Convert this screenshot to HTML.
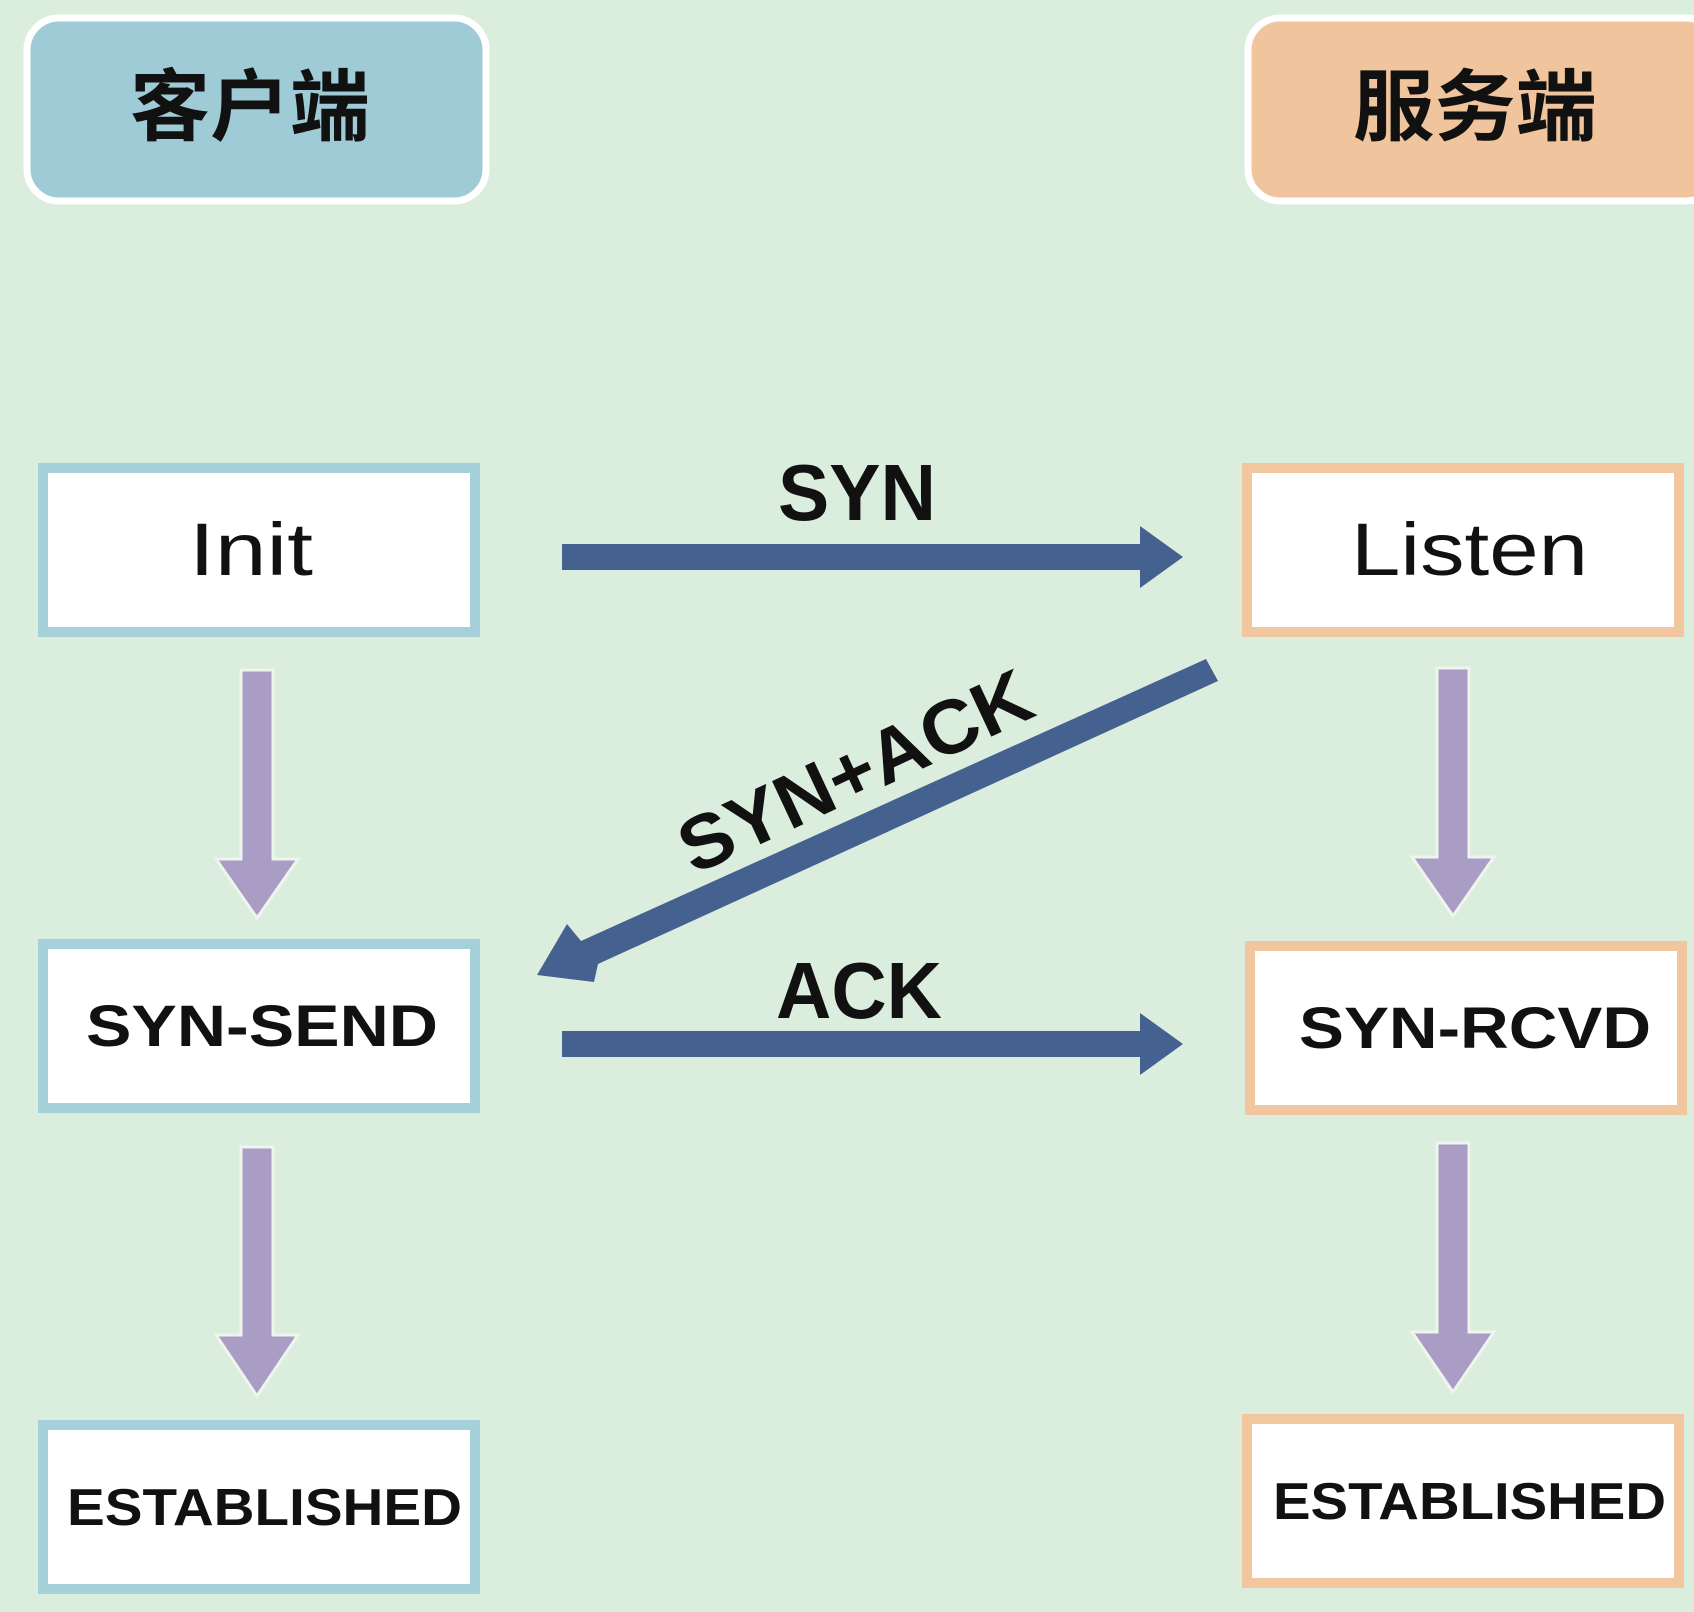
<!DOCTYPE html>
<html><head><meta charset="utf-8"><style>
html,body{margin:0;padding:0;background:#dbeedd;}
svg{display:block}
text{font-family:"Liberation Sans","Noto Sans CJK SC",sans-serif;}
</style></head><body>
<svg width="1694" height="1612" viewBox="0 0 1694 1612" xmlns="http://www.w3.org/2000/svg">
<rect width="1694" height="1612" fill="#dbeedd"/>
<rect x="27" y="18" width="459" height="183" rx="32" fill="#9ecbd5" stroke="#ffffff" stroke-width="7"/>
<rect x="1248" y="18" width="470" height="183" rx="32" fill="#f0c49c" stroke="#ffffff" stroke-width="7"/>
<text x="130" y="134" font-size="78" font-weight="bold" textLength="240" lengthAdjust="spacingAndGlyphs" fill="#111">客户端</text>
<text x="1353" y="134" font-size="78" font-weight="bold" textLength="244" lengthAdjust="spacingAndGlyphs" fill="#111">服务端</text>
<g fill="#ffffff" stroke="#a6d0da" stroke-width="10">
<rect x="43" y="468" width="432" height="164"/>
<rect x="43" y="944" width="432" height="164"/>
<rect x="43" y="1425" width="432" height="164"/>
</g>
<g fill="#ffffff" stroke="#f2c79f" stroke-width="10">
<rect x="1247" y="468" width="432" height="164"/>
<rect x="1250" y="946" width="432" height="164"/>
<rect x="1247" y="1419" width="432" height="164"/>
</g>
<g fill="#111" lengthAdjust="spacingAndGlyphs">
<text x="189" y="575" font-size="74" textLength="124" lengthAdjust="spacingAndGlyphs">Init</text>
<text x="86" y="1046" font-size="58" font-weight="bold" textLength="352" lengthAdjust="spacingAndGlyphs">SYN-SEND</text>
<text x="67" y="1525" font-size="52" font-weight="bold" textLength="395" lengthAdjust="spacingAndGlyphs">ESTABLISHED</text>
<text x="1351" y="575" font-size="74" textLength="237" lengthAdjust="spacingAndGlyphs">Listen</text>
<text x="1299" y="1048" font-size="58" font-weight="bold" textLength="352" lengthAdjust="spacingAndGlyphs">SYN-RCVD</text>
<text x="1273" y="1519" font-size="52" font-weight="bold" textLength="393" lengthAdjust="spacingAndGlyphs">ESTABLISHED</text>
</g>
<g fill="#a99dc5" stroke="#eef5ee" stroke-width="3">
<polygon points="241,670 273,670 273,859 298,859 257,918 216,859 241,859"/>
<polygon points="241,1147 273,1147 273,1335 298,1335 257,1396 216,1335 241,1335"/>
<polygon points="1437,668 1469,668 1469,857 1494,857 1453,916 1412,857 1437,857"/>
<polygon points="1437,1143 1469,1143 1469,1332 1494,1332 1453,1392 1412,1332 1437,1332"/>
</g>
<g fill="#44618f">
<polygon points="562,544 1140,544 1140,526 1183,557 1140,588 1140,570 562,570"/>
<polygon points="562,1031 1140,1031 1140,1013 1183,1044 1140,1075 1140,1057 562,1057"/>
<polygon points="1206,659 1218,681 598,964 594,982 537,975 567,924 581,941"/>
</g>
<g fill="#111">
<text x="778" y="520" font-size="80" font-weight="bold" textLength="158" lengthAdjust="spacingAndGlyphs">SYN</text>
<text x="776" y="1018" font-size="80" font-weight="bold" textLength="166" lengthAdjust="spacingAndGlyphs">ACK</text>
<text x="0" y="0" font-size="76" font-weight="bold" text-anchor="middle" textLength="380" lengthAdjust="spacingAndGlyphs" transform="translate(866,795) rotate(-25)">SYN+ACK</text>
</g>
</svg>
</body></html>
